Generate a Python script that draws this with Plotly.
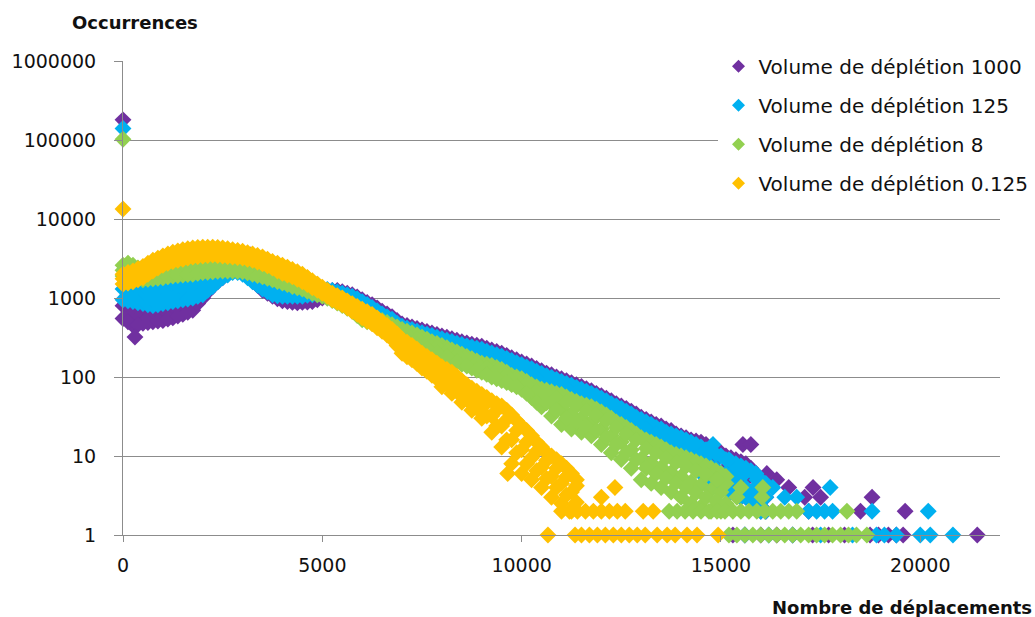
import plotly.graph_objects as go

# ---------------- data ----------------
SERIES_NAMES = ["Volume de déplétion 1000", "Volume de déplétion 125",
                "Volume de déplétion 8", "Volume de déplétion 0.125"]
COLORS = ["#7030A0", "#00B0F0", "#92D050", "#FFC000"]

# displacement bins at which the band edges (upper / centre / lower) were read
BINS = [0, 250, 500, 750, 1000, 1250, 1500, 1750, 2000, 2250, 2500, 2750,
        3000, 3250, 3500, 3750, 4000, 4250, 4500, 4750, 5000, 5250, 5500, 5750,
        6000, 6250, 6500, 6750, 7000, 7250, 7500, 7750, 8000, 8250, 8500, 8750,
        9000, 9250, 9500, 9750, 10000, 10250, 10500, 10750, 11000, 11250, 11500, 11750,
        12000, 12250, 12500, 12750, 13000, 13250, 13500, 13750, 14000, 14250, 14500, 14750,
        15000, 15250, 15500, 15750, 16000]
# intermediate bins at which further points of the band were read
BINS_MID = [125, 375, 625, 875, 1125, 1375, 1625, 1875, 2125, 2375, 2625, 2875,
            3125, 3375, 3625, 3875, 4125, 4375, 4625, 4875, 5125, 5375, 5625, 5875,
            6125, 6375, 6625, 6875, 7125, 7375, 7625, 7875, 8125, 8375, 8625, 8875,
            9125, 9375, 9625, 9875, 10125, 10375, 10625, 10875, 11125, 11375, 11625, 11875,
            12125, 12375, 12625, 12875, 13125, 13375, 13625, 13875, 14125, 14375, 14625, 14875,
            15125, 15375, 15625, 15875, 16125]

# occurrences at zero displacement
SPIKE = [180000, 140000, 102000, 13400]

# ---- Volume 1000 ----
v1000_hi = [800, 700, 650, 700, 750, 800, 850, 1000, 1300, 1800, 2300, 2700,
            2800, 2300, 1700, 1350, 1100, 1000, 1000, 1050, 1150, 1250, 1200, 1100,
            950, 820, 680, 580, 470, 430, 395, 360, 330, 305, 280, 260,
            245, 220, 200, 175, 155, 138, 120, 107, 95, 85, 76, 67,
            58, 50, 43, 37, 31, 27, 24, 21, 18, 16, 15, 13,
            11, 9.5, 8.5, 7, 5]
v1000_midb = []
v1000_lo = [550, 450, 480, 500, 520, 560, 620, 700, 1000, 1400, 1800, 2200,
            2300, 1700, 1250, 1050, 920, 880, 880, 900, 1000, 1050, 1000, 900,
            780, 680, 600, 510, 440, 400, 360, 330, 290, 265, 240, 215,
            195, 170, 155, 135, 120, 105, 92, 80, 68, 60, 52, 44,
            38, 33, 28, 23, 20, 17, 14, 12, 10, 9, 8, 6,
            5, 4, 3, 3, 2]
v1000_hi2 = [750, 680, 680, 720, 780, 820, 900, 1200, 1550, 2050, 2500, 2800,
             2600, 2000, 1500, 1200, 1050, 1000, 1020, 1100, 1200, 1250, 1150, 1030,
             880, 750, 630, 520, 450, 412, 378, 345, 318, 292, 270, 252,
             232, 210, 188, 165, 146, 128, 112, 100, 90, 80, 71, 62,
             54, 46, 40, 34, 29, 25, 22, 19, 17, 15.5, 14, 12,
             10, 9, 8, 6, 4]
v1000_mid = [600, 550, 560, 600, 640, 680, 740, 1100, 1500, 2000, 2500, 2600,
             2400, 1900, 1450, 1150, 950, 930, 940, 1000, 1100, 1150, 1080, 980,
             800, 680, 560, 470, 410, 370, 340, 310, 280, 255, 235, 215,
             195, 175, 158, 140, 124, 110, 97, 86, 75, 66, 58, 50,
             43, 37, 32, 27, 24, 20, 17, 15, 13, 12, 10, 9,
             7, 6, 5, 4, 3]
v1000_lo2 = [500, 460, 490, 510, 540, 590, 660, 850, 1200, 1600, 2000, 2250,
             2000, 1450, 1150, 980, 900, 870, 890, 950, 1020, 1020, 950, 840,
             730, 640, 550, 475, 420, 380, 345, 310, 278, 252, 228, 205,
             182, 162, 145, 128, 112, 98, 86, 74, 64, 56, 48, 41,
             35, 30, 25, 21, 18, 15, 13, 11, 9.5, 8.5, 7, 5.5,
             4.5, 3.5, 3, 2.5, 2]
v1000_tail_x = [300, 3200, 15550, 15750, 16150, 16400, 16700, 17310, 17500, 17100, 18790,
                18500, 17200, 19620, 15300, 15600, 16000, 16400, 16800, 17300, 17700,
                18100, 18740, 18950, 19200, 19400, 19570, 21430]
v1000_tail_y = [320, 3500, 14, 14, 6, 5, 4, 4, 3, 3, 3,
                2, 2, 2, 1, 1, 1, 1, 1, 1, 1,
                1, 1, 1, 1, 1, 1, 1]

# ---- Volume 125 ----
v125_hi = [1300, 1250, 1200, 1250, 1300, 1350, 1400, 1500, 1600, 1900, 2300, 2600,
           2500, 2100, 1700, 1450, 1350, 1300, 1300, 1300, 1300, 1250, 1150, 1050,
           900, 760, 630, 540, 440, 400, 365, 335, 305, 282, 258, 240,
           225, 202, 184, 162, 143, 127, 111, 99, 88, 79, 70, 62,
           54, 46, 40, 34, 29, 25, 22, 19, 17, 15, 13, 11.5,
           10, 8.5, 7.5, 6.5, 5]
v125_midb = []
v125_lo = [950, 900, 850, 800, 850, 900, 950, 1000, 1100, 1400, 1800, 2100,
           2000, 1600, 1300, 1100, 1050, 1050, 1050, 1100, 1100, 1050, 980, 880,
           760, 670, 590, 500, 430, 390, 350, 320, 285, 260, 235, 210,
           190, 165, 150, 130, 115, 100, 90, 78, 66, 58, 50, 42,
           36, 31, 26, 22, 19, 16, 13, 11, 9, 8, 6, 5,
           4, 3.5, 3, 3, 2]
v125_hi2 = [1280, 1220, 1220, 1280, 1320, 1380, 1450, 1550, 1750, 2100, 2450, 2600,
            2300, 1900, 1550, 1400, 1320, 1300, 1300, 1300, 1280, 1200, 1100, 980,
            830, 690, 580, 480, 415, 380, 348, 318, 292, 268, 248, 232,
            212, 192, 172, 152, 134, 118, 104, 93, 83, 74, 66, 58,
            50, 43, 37, 31, 27, 23, 20, 18, 16, 14, 12, 10.5,
            9, 8, 7, 6, 4.5]
v125_mid = [1100, 1050, 1000, 1000, 1050, 1100, 1150, 1200, 1400, 1700, 2100, 2350,
            2000, 1650, 1350, 1200, 1150, 1150, 1150, 1200, 1200, 1120, 1050, 920,
            780, 660, 550, 460, 400, 365, 335, 305, 278, 255, 232, 212,
            192, 172, 154, 137, 120, 106, 93, 82, 72, 63, 56, 49,
            42, 36, 31, 26, 22, 19, 16, 14, 12, 10, 8.5, 7,
            6, 5, 4, 4, 3]
v125_lo2 = [920, 870, 820, 820, 870, 920, 970, 1050, 1250, 1600, 1950, 2100,
            1800, 1450, 1200, 1070, 1050, 1050, 1080, 1100, 1080, 1010, 930, 820,
            715, 630, 545, 465, 410, 370, 335, 300, 272, 248, 222, 200,
            178, 158, 140, 122, 108, 95, 84, 72, 62, 54, 46, 39,
            33, 28, 24, 20, 17, 14.5, 12, 10, 8.5, 7, 5.5, 4.5,
            3.8, 3.2, 3, 2.5, 2]
v125_tail_x = [14800, 15200, 15400, 15600, 15900, 16300, 16600, 16900, 17200, 17400,
               17600, 17800, 17740, 18790, 20200, 15600, 16200, 16800, 17500, 18300,
               18900, 19100, 19400, 20000, 20250, 20820]
v125_tail_y = [14, 9, 7, 6, 5, 4, 3, 3, 2, 2,
               2, 2, 4, 2, 2, 1, 1, 1, 1, 1,
               1, 1, 1, 1, 1, 1]

# ---- Volume 8 ----
v8_hi = [2600, 2600, 2200, 2200, 2300, 2400, 2500, 2600, 2650, 2700, 2700, 2650,
         2550, 2400, 2200, 2000, 1800, 1650, 1500, 1350, 1250, 1100, 950, 800,
         640, 580, 520, 460, 400, 360, 320, 280, 250, 220, 195, 170,
         150, 140, 125, 105, 95, 80, 70, 65, 60, 52, 46, 42,
         36, 30, 25, 21, 17, 15, 13, 11, 10, 9, 8, 7,
         6]
v8_midb = [2250, 2150, 1950, 1950, 2050, 2150, 2200, 2300, 2350, 2400, 2450, 2400,
           2350, 2200, 2000, 1850, 1650, 1500, 1400, 1250, 1150, 1000, 870, 740,
           580, 530, 470, 410, 350, 310, 280, 245, 220, 190, 170, 150,
           130, 118, 106, 92, 82, 67, 54, 46, 39, 34, 30, 27,
           22, 18, 15, 12, 9.2, 8.2, 7.2, 6.2, 5.5, 4.7, 4.3, 3.7,
           3.5]
v8_lo = [1900, 1800, 1700, 1750, 1800, 1900, 1950, 2000, 2100, 2150, 2200, 2200,
         2150, 2000, 1850, 1700, 1550, 1400, 1300, 1150, 1050, 930, 800, 680,
         530, 480, 420, 360, 300, 270, 240, 210, 190, 165, 145, 130,
         115, 100, 90, 80, 70, 55, 42, 32, 25, 22, 20, 18,
         14, 11, 9, 7, 5, 4.5, 4, 3.5, 3, 2.5, 2.3, 2,
         2]
v8_hi2 = [2750, 2400, 2200, 2250, 2350, 2450, 2550, 2620, 2680, 2700, 2680, 2600,
          2480, 2300, 2100, 1900, 1720, 1580, 1420, 1300, 1170, 1020, 880, 720,
          610, 550, 490, 430, 380, 340, 300, 265, 235, 208, 182, 160,
          145, 132, 115, 100, 88, 75, 68, 62, 56, 49, 44, 39,
          33, 27, 23, 19, 16, 14, 12, 10.5, 9.5, 8.5, 7.5, 6.5,
          5.5]
v8_mid = [2700, 2100, 1950, 2000, 2050, 2150, 2250, 2300, 2400, 2450, 2450, 2400,
          2300, 2150, 2000, 1800, 1650, 1500, 1380, 1250, 1130, 1000, 860, 720,
          560, 520, 460, 400, 340, 300, 270, 240, 215, 190, 165, 148,
          130, 118, 105, 92, 80, 66, 61, 54, 48, 43, 38, 33,
          28, 23, 19, 16, 12.5, 11, 9.5, 8.3, 7.4, 6.5, 5.8, 5.1,
          4.5]
v8_lo2 = [2000, 1750, 1720, 1780, 1850, 1920, 1980, 2050, 2120, 2180, 2200, 2180,
          2080, 1920, 1780, 1620, 1480, 1350, 1220, 1100, 990, 860, 740, 600,
          500, 450, 390, 330, 285, 255, 225, 200, 178, 155, 138, 122,
          108, 95, 85, 75, 62, 48, 47, 38, 30, 27, 24, 21,
          17, 14, 11, 9, 7, 6, 5.3, 4.6, 4, 3.4, 3, 2.7,
          2.5]
v8_tail_x = [13700, 13900, 14100, 14300, 14500, 14700, 14900, 15100, 15300, 15500,
             15700, 15900, 16100, 16300, 16500, 16700, 16900, 18160,
             15200, 15400, 15600, 15800, 16000, 16200, 16400, 16600, 16800, 17000,
             17200, 17400, 17600, 17800, 18000, 18200, 18400, 18660,
             15400, 16030, 15500, 16050, 14600, 14900]
v8_tail_y = [2, 2, 2, 2, 2, 2, 2, 2, 2, 2,
             2, 2, 2, 2, 2, 2, 2, 2,
             1, 1, 1, 1, 1, 1, 1, 1, 1, 1,
             1, 1, 1, 1, 1, 1, 1, 1,
             3, 3, 4, 4, 6, 5]

# ---- Volume 0.125 ----
v0125_hi = [2000, 2200, 2500, 3000, 3400, 3800, 4100, 4300, 4400, 4400, 4300, 4100,
            3900, 3600, 3300, 2900, 2600, 2300, 2000, 1650, 1370, 1150, 1000, 850,
            720, 620, 500, 400, 300, 250, 200, 165, 135, 115, 90, 72,
            60, 50, 43, 33, 24, 18, 13, 10, 8, 6]
v0125_midb = [1750, 1900, 2100, 2550, 2950, 3300, 3550, 3750, 3850, 3900, 3800, 3650,
              3500, 3250, 2950, 2600, 2300, 2050, 1780, 1480, 1250, 1050, 900, 760,
              630, 540, 430, 345, 245, 205, 160, 130, 100, 84, 66, 52,
              42, 32, 24, 16, 12, 9.5, 7.2, 5.5, 4.5, 3.5]
v0125_lo = [1500, 1600, 1800, 2200, 2600, 2900, 3100, 3300, 3400, 3500, 3400, 3300,
            3200, 3000, 2700, 2400, 2050, 1850, 1600, 1350, 1150, 950, 820, 680,
            560, 470, 380, 300, 200, 165, 130, 105, 75, 62, 48, 38,
            30, 20, 13, 8, 6, 5, 4, 3, 2.5, 2]
v0125_hi2 = [2100, 2350, 2750, 3200, 3600, 3950, 4200, 4350, 4400, 4350, 4200, 4000,
             3750, 3450, 3100, 2750, 2450, 2150, 1820, 1500, 1250, 1070, 920, 780,
             670, 560, 450, 350, 275, 225, 182, 150, 125, 102, 80, 66,
             55, 46, 38, 28, 21, 15, 11, 9, 7, 5]
v0125_mid = [1800, 1900, 2200, 2700, 3000, 3400, 3600, 3800, 3900, 3950, 3850, 3700,
             3500, 3250, 2950, 2600, 2300, 2050, 1800, 1500, 1250, 1050, 900, 760,
             630, 530, 430, 330, 250, 200, 160, 130, 112, 92, 74, 58,
             47, 38, 29, 21, 15, 11.5, 8.8, 7, 5.5, 4.2]
v0125_lo2 = [1550, 1700, 2000, 2400, 2750, 3000, 3200, 3350, 3450, 3450, 3350, 3250,
             3100, 2850, 2550, 2200, 1950, 1720, 1480, 1250, 1050, 880, 750, 620,
             510, 420, 340, 250, 180, 148, 118, 95, 80, 65, 52, 40,
             32, 24, 16, 11, 8, 6.5, 5.2, 4, 3.2, 2.6]
v0125_tail_x = [9650, 10660, 11000, 11200, 11400, 11340, 11500, 11600, 11700, 11800,
                11900, 12000, 12000, 12100, 12200, 12300, 12340, 12400, 12500, 12600,
                12700, 12900, 13050, 13100, 13300, 13400, 13650, 13850, 14150, 14400, 14930]
v0125_tail_y = [6, 1, 2, 2, 2, 1, 1, 2, 1, 2,
                1, 3, 2, 1, 2, 1, 4, 2, 1, 2,
                1, 1, 2, 1, 2, 1, 1, 1, 1, 1, 1]

SERIES = [
    (v1000_hi, v1000_midb, v1000_lo, v1000_hi2, v1000_mid, v1000_lo2, v1000_tail_x, v1000_tail_y),
    (v125_hi, v125_midb, v125_lo, v125_hi2, v125_mid, v125_lo2, v125_tail_x, v125_tail_y),
    (v8_hi, v8_midb, v8_lo, v8_hi2, v8_mid, v8_lo2, v8_tail_x, v8_tail_y),
    (v0125_hi, v0125_midb, v0125_lo, v0125_hi2, v0125_mid, v0125_lo2, v0125_tail_x, v0125_tail_y),
]

X_TICKS = [0, 5000, 10000, 15000, 20000]
Y_TICKS = [1, 10, 100, 1000, 10000, 100000, 1000000]
Y_TICK_TEXT = ["1", "10", "100", "1000", "10000", "100000", "1000000"]

# ---------------- figure ----------------
FONT = "DejaVu Sans"
TXT = "#111111"
fig = go.Figure()
for i, (name, color, rows) in enumerate(zip(SERIES_NAMES, COLORS, SERIES)):
    hi, midb, lo, hi2, mid, lo2, tx, ty = rows
    n = len(hi)
    assert all(len(r) == n for r in (lo, hi2, mid, lo2)) and len(midb) in (0, n)
    assert n <= len(BINS) and len(tx) == len(ty)
    xs = (BINS[:n] + BINS[:len(midb)] + BINS[:n]
          + BINS_MID[:n] + BINS_MID[:n] + BINS_MID[:n] + tx + [0])
    ys = hi + midb + lo + hi2 + mid + lo2 + ty + [SPIKE[i]]
    fig.add_trace(go.Scatter(
        x=xs, y=ys, mode="markers", name=name, showlegend=False,
        marker=dict(symbol="diamond", size=13, color=color, line=dict(width=0)),
        cliponaxis=False, hoverinfo="x+y",
    ))

# legend entries (smaller symbols, like the original legend)
for name, color in zip(SERIES_NAMES, COLORS):
    fig.add_trace(go.Scatter(
        x=[None], y=[None], mode="markers", name=name, legendgroup=name,
        marker=dict(symbol="diamond", size=10, color=color, line=dict(width=0)),
        showlegend=True,
    ))

grid = "#8c8c8c"
fig.update_layout(
    width=1035, height=617,
    margin=dict(l=123, r=35, t=61, b=82, autoexpand=False),
    paper_bgcolor="white", plot_bgcolor="white",
    font=dict(family=FONT, size=19, color=TXT),
    showlegend=True,
    legend=dict(x=0.679, y=1.03, xanchor="left", yanchor="top",
                bgcolor="rgba(255,255,255,1)", font=dict(size=20, family=FONT, color=TXT),
                tracegroupgap=10, itemwidth=30),
    xaxis=dict(range=[0, 22000], tickvals=X_TICKS, ticktext=[str(v) for v in X_TICKS],
               showgrid=False, zeroline=False, showline=True, linecolor=grid,
               ticks="outside", ticklen=6, tickcolor=grid, ticklabelstandoff=7,
               tickfont=dict(size=19, family=FONT, color=TXT)),
    yaxis=dict(type="log", range=[0, 6], tickvals=Y_TICKS, ticktext=Y_TICK_TEXT,
               showgrid=True, gridcolor=grid, gridwidth=1, zeroline=False,
               showline=True, linecolor=grid, ticks="outside", ticklen=8,
               tickcolor=grid, ticklabelstandoff=14,
               tickfont=dict(size=19, family=FONT, color=TXT)),
    annotations=[
        dict(text="<b>Occurrences</b>", xref="paper", yref="paper",
             x=-0.061, y=1.082, xanchor="left", yanchor="middle", showarrow=False,
             font=dict(size=18, family=FONT, color=TXT)),
        dict(text="<b>Nombre de déplacements</b>", xref="paper", yref="paper",
             x=0.738, y=-0.152, xanchor="left", yanchor="middle", showarrow=False,
             font=dict(size=18, family=FONT, color=TXT)),
    ],
)

fig.write_html("out.html", config={"displayModeBar": False},
               post_script="document.body.style.margin='0';")
